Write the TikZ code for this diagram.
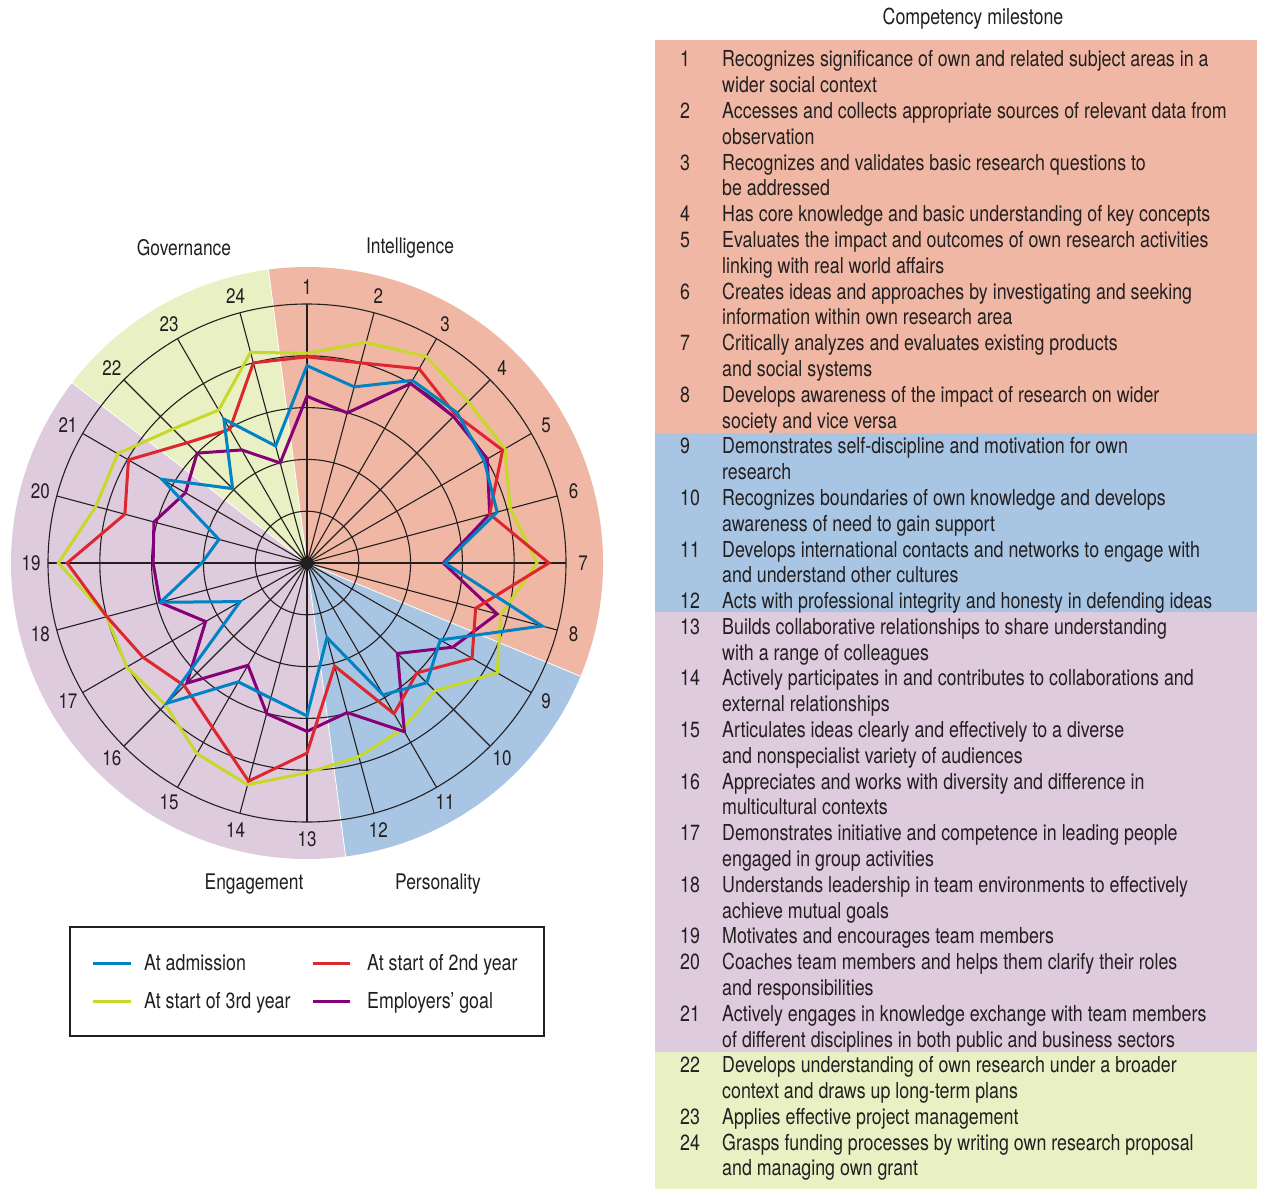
\documentclass[tikz,border=0pt]{standalone}
\usepackage{fontspec}
\setmainfont{TeX Gyre Heros}[FakeStretch=0.81]
\definecolor{bgpink}{RGB}{240,184,164}
\definecolor{bgblue}{RGB}{168,198,228}
\definecolor{bgpurp}{RGB}{222,203,221}
\definecolor{bggreen}{RGB}{233,240,196}
\definecolor{lblue}{RGB}{0,130,196}
\definecolor{lred}{RGB}{222,38,46}
\definecolor{lgreen}{RGB}{200,216,40}
\definecolor{lpurp}{RGB}{134,0,118}
\definecolor{ink}{RGB}{35,31,32}
\tikzset{
  gridline/.style={draw=ink, line width=1.1pt},
  series/.style={line width=3pt, line join=miter, miter limit=6},
  txt/.style={anchor=base west, inner sep=0pt, text=ink, font=\fontsize{22}{25}\selectfont},
  spokelab/.style={inner sep=0pt, text=ink, font=\fontsize{21}{24}\selectfont},
  catlab/.style={inner sep=0pt, text=ink, font=\fontsize{21.5}{24}\selectfont},
}
\newcommand\radarseries[3]{\draw[series,#1] (90:{#2*51.8}) \foreach \v [count=\i from 1] in {#3} { -- ({90-15*\i}:{\v*51.8}) } -- cycle;}
\begin{document}
\begin{tikzpicture}[x=1pt,y=-1pt]
\useasboundingbox (0,0) rectangle (1265,1190);
\fill[white] (0,0) rectangle (1265,1190);
% ---------------- radar chart ----------------
\begin{scope}[shift={(307,563)}, yscale=-1]
  \fill[bgpink] (0,0) -- (-22.5:296) arc[start angle=-22.5, end angle=97.5, radius=296] -- cycle;
  \fill[bggreen] (0,0) -- (97.5:296) arc[start angle=97.5, end angle=142.5, radius=296] -- cycle;
  \fill[bgpurp] (0,0) -- (142.5:296) arc[start angle=142.5, end angle=277.5, radius=296] -- cycle;
  \fill[bgblue] (0,0) -- (277.5:296) arc[start angle=277.5, end angle=337.5, radius=296] -- cycle;
  \foreach \a in {97.5,142.5,277.5,337.5} \draw[white, line width=0.8pt] (0,0) -- (\a:296);
  \foreach \k in {1,...,5} \draw[gridline] (0,0) circle[radius=51.8*\k];
  \foreach \i in {1,...,24} {
    \draw[gridline] (0,0) -- ({90-15*(\i-1)}:259);
    \node[spokelab] (s\i) at ({90-15*(\i-1)}:276) {\i};
  }
  % series: green, purple, red, blue
  \radarseries{lgreen}{4.05}{4.41,4.6,4.4,4.41,4.06,4.44,3.87,4.24,3.49,3.7,3.87,4.05,4.43,4.25,3.87,4.02,4.0,4.8,4.22,4.22,3.66,3.41,4.21}
  \radarseries{lpurp}{3.22}{3.0,4.0,4.0,4.02,3.65,2.63,3.8,3.25,2.47,3.76,2.99,3.25,3.01,2.28,3.28,2.26,2.94,2.97,3.06,2.71,3.0,2.52,2.0}
  \radarseries{lred}{3.98}{4.0,4.33,4.05,4.36,3.65,4.67,3.37,3.68,3.0,3.36,2.06,3.67,4.36,3.66,3.35,3.65,4.0,4.63,3.64,3.98,3.28,2.98,4.0}
  \radarseries{lblue}{3.81}{3.52,4.07,4.1,3.95,3.8,2.66,4.7,2.97,3.27,2.94,1.49,2.95,2.7,2.65,3.83,1.49,2.93,2.03,1.76,3.23,2.03,3.21,2.34}
  \fill[ink] (0,0) circle[radius=6.5];
\end{scope}
\node[catlab] (gov) at (184,248) {Governance};
\node[catlab] (int) at (410,248) {Intelligence};
\node[catlab] (eng) at (254,884) {Engagement};
\node[catlab] (per) at (438,884) {Personality};
% ---------------- legend ----------------
\draw[ink, line width=1.1pt] (70,927) rectangle (544,1036);
\coordinate (la1) at (93,963);  \coordinate (la2) at (131,963);
\coordinate (lb1) at (313,963); \coordinate (lb2) at (350,963);
\coordinate (lc1) at (93,1001); \coordinate (lc2) at (131,1001);
\coordinate (ld1) at (313,1001);\coordinate (ld2) at (350,1001);
\draw[lblue, line width=3pt] (la1) -- (la2);
\draw[lred, line width=3pt] (lb1) -- (lb2);
\draw[lgreen, line width=3pt] (lc1) -- (lc2);
\draw[lpurp, line width=3pt] (ld1) -- (ld2);
\node[txt] (ta) at (144,970.5) {At admission};
\node[txt] (tb) at (367,970.5) {At start of 2nd year};
\node[txt] (tc) at (144,1008.5) {At start of 3rd year};
\node[txt] (td) at (367,1008.5) {Employers’ goal};
% ---------------- table ----------------
\node[inner sep=0pt, text=ink, font=\fontsize{22}{25}\selectfont] (title) at (973,19) {Competency milestone};
\fill[bgpink] (655,40) rectangle (1257,432.5);
\fill[bgblue] (655,432.5) rectangle (1257,612);
\fill[bgpurp] (655,612) rectangle (1257,1052);
\fill[bggreen] (655,1052) rectangle (1257,1189);
\foreach \n/\l in {1/0,2/2,3/4,4/6,5/7,6/9,7/11,8/13,9/15,10/17,11/19,12/21,13/22,14/24,15/26,16/28,17/30,18/32,19/34,20/35,21/37,22/39,23/41,24/42}
  \node[txt] (num\n) at (680,{67+25.79*\l}) {\n};
\foreach \t [count=\i from 0] in {
 {Recognizes significance of own and related subject areas in a},
 {wider social context},
 {Accesses and collects appropriate sources of relevant data from},
 {observation},
 {Recognizes and validates basic research questions to},
 {be addressed},
 {Has core knowledge and basic understanding of key concepts},
 {Evaluates the impact and outcomes of own research activities},
 {linking with real world affairs},
 {Creates ideas and approaches by investigating and seeking},
 {information within own research area},
 {Critically analyzes and evaluates existing products},
 {and social systems},
 {Develops awareness of the impact of research on wider},
 {society and vice versa},
 {Demonstrates self-discipline and motivation for own},
 {research},
 {Recognizes boundaries of own knowledge and develops},
 {awareness of need to gain support},
 {Develops international contacts and networks to engage with},
 {and understand other cultures},
 {Acts with professional integrity and honesty in defending ideas},
 {Builds collaborative relationships to share understanding},
 {with a range of colleagues},
 {Actively participates in and contributes to collaborations and},
 {external relationships},
 {Articulates ideas clearly and effectively to a diverse},
 {and nonspecialist variety of audiences},
 {Appreciates and works with diversity and difference in},
 {multicultural contexts},
 {Demonstrates initiative and competence in leading people},
 {engaged in group activities},
 {Understands leadership in team environments to effectively},
 {achieve mutual goals},
 {Motivates and encourages team members},
 {Coaches team members and helps them clarify their roles},
 {and responsibilities},
 {Actively engages in knowledge exchange with team members},
 {of different disciplines in both public and business sectors},
 {Develops understanding of own research under a broader},
 {context and draws up long-term plans},
 {Applies effective project management},
 {Grasps funding processes by writing own research proposal},
 {and managing own grant}}
  \node[txt] (row\i) at (722,{67+25.79*\i}) {\t};
\end{tikzpicture}
\end{document}
